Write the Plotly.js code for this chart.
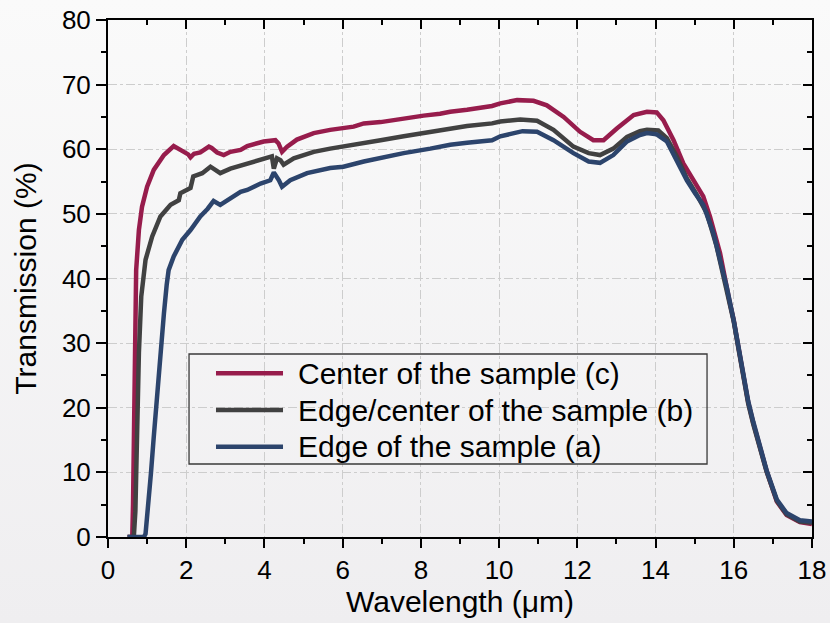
<!DOCTYPE html>
<html>
<head>
<meta charset="utf-8">
<script src="https://cdn.plot.ly/plotly-3.0.1.min.js"></script>
<style>
html, body { margin: 0; padding: 0; width: 830px; height: 623px; overflow: hidden;
  background: linear-gradient(to bottom, #fafafa, #efeef0); }
#chart { width: 830px; height: 623px; }
</style>
</head>
<body>
<div id="chart"></div>
<script>
// Center of the sample (c)
const xCenter = [0.5, 0.62, 0.64, 0.66, 0.685, 0.72, 0.79, 0.87, 1.0, 1.17, 1.43, 1.68, 1.94, 2.05, 2.11, 2.2, 2.36, 2.5, 2.58, 2.65, 2.79, 2.96, 3.13, 3.39, 3.56, 3.98, 4.28, 4.36, 4.45, 4.58, 4.83, 5.26, 5.68, 6.28, 6.54, 6.97, 7.56, 8.07, 8.49, 8.75, 9.18, 9.82, 10.03, 10.46, 10.88, 11.22, 11.65, 12.07, 12.41, 12.67, 13.01, 13.44, 13.78, 14.03, 14.2, 14.46, 14.71, 14.97, 15.22, 15.39, 15.65, 15.9, 16.0, 16.1, 16.2, 16.37, 16.5, 16.6, 16.84, 17.1, 17.35, 17.69, 18.0];
const yCenter = [0, 0, 5, 13, 28.5, 41.3, 47.5, 51.1, 54.2, 56.8, 59.1, 60.5, 59.6, 59.2, 58.75, 59.3, 59.5, 60.0, 60.4, 60.2, 59.5, 59.1, 59.6, 59.9, 60.5, 61.2, 61.4, 60.9, 59.6, 60.4, 61.5, 62.5, 63.0, 63.5, 64.0, 64.2, 64.8, 65.2, 65.5, 65.8, 66.1, 66.7, 67.1, 67.6, 67.5, 66.8, 65.0, 62.7, 61.4, 61.4, 63.2, 65.3, 65.8, 65.7, 64.5, 61.4, 57.8, 55.3, 52.7, 49.6, 43.9, 36.2, 33.5, 30.0, 26.5, 20.8, 17.6, 15.5, 10.2, 5.5, 3.4, 2.3, 2.0];

// Edge/center of the sample (b)
const xEdgeCenter = [0.5, 0.66, 0.7, 0.72, 0.745, 0.79, 0.85, 0.96, 1.13, 1.34, 1.6, 1.81, 1.85, 2.11, 2.18, 2.41, 2.62, 2.72, 2.87, 3.13, 3.56, 3.98, 4.19, 4.24, 4.32, 4.41, 4.49, 4.75, 5.26, 5.68, 6.02, 6.54, 6.97, 7.56, 8.07, 8.49, 8.75, 9.18, 9.82, 10.03, 10.54, 10.97, 11.39, 11.9, 12.29, 12.58, 12.92, 13.27, 13.6, 13.78, 14.07, 14.29, 14.54, 14.8, 15.05, 15.31, 15.56, 15.82, 16.0, 16.1, 16.2, 16.37, 16.5, 16.6, 16.84, 17.1, 17.35, 17.69, 18.0];
const yEdgeCenter = [0, 0, 4, 10, 18.1, 28.5, 37.2, 42.9, 46.5, 49.6, 51.4, 52.1, 53.2, 54.0, 55.8, 56.3, 57.3, 56.9, 56.3, 57.0, 57.8, 58.6, 58.9, 57.0, 58.6, 58.3, 57.6, 58.6, 59.6, 60.1, 60.4, 60.9, 61.4, 62.0, 62.5, 63.0, 63.2, 63.6, 64.0, 64.3, 64.6, 64.4, 63.0, 60.4, 59.4, 59.1, 60.1, 61.9, 62.8, 63.0, 62.9, 61.7, 58.9, 55.5, 53.0, 50.1, 45.0, 38.2, 33.3, 29.8, 26.3, 20.6, 17.4, 15.3, 10.1, 5.6, 3.5, 2.4, 2.2];

// Edge of the sample (a)
const xEdge = [0.5, 0.7, 0.92, 0.96, 1.04, 1.1, 1.17, 1.3, 1.43, 1.5, 1.55, 1.68, 1.9, 2.11, 2.36, 2.55, 2.7, 2.87, 3.13, 3.39, 3.56, 3.9, 4.15, 4.24, 4.37, 4.45, 4.66, 5.09, 5.68, 6.02, 6.54, 7.05, 7.56, 8.24, 8.75, 9.18, 9.82, 10.03, 10.6, 10.97, 11.39, 11.9, 12.29, 12.58, 12.92, 13.27, 13.6, 13.78, 14.03, 14.29, 14.54, 14.8, 15.01, 15.22, 15.48, 15.82, 16.0, 16.1, 16.2, 16.37, 16.5, 16.6, 16.84, 17.1, 17.35, 17.69, 18.0];
const yEdge = [0, 0, 0, 0.5, 5.2, 10, 15.5, 25.8, 34.6, 39.0, 41.3, 43.4, 46.0, 47.5, 49.6, 50.8, 52.0, 51.4, 52.4, 53.4, 53.7, 54.7, 55.2, 56.4, 55.2, 54.2, 55.2, 56.3, 57.1, 57.3, 58.1, 58.8, 59.4, 60.1, 60.7, 61.0, 61.4, 62.0, 62.8, 62.7, 61.4, 59.4, 58.1, 57.9, 59.1, 61.2, 62.2, 62.5, 62.3, 61.2, 58.3, 55.2, 53.2, 51.4, 47.0, 38.7, 33.5, 30.0, 26.6, 21.0, 17.8, 15.7, 10.3, 5.8, 3.7, 2.6, 2.4];

const seriesNames = ['Center of the sample (c)', 'Edge/center of the sample (b)', 'Edge of the sample (a)'];
const seriesColors = ['#971c4c', '#414141', '#2c446c'];

const FONT = '"Liberation Sans", Arial, Helvetica, sans-serif';
const xs = [xCenter, xEdgeCenter, xEdge];
const ys = [yCenter, yEdgeCenter, yEdge];

const traces = xs.map((x, i) => ({
  type: 'scatter', mode: 'lines', x: x, y: ys[i], name: seriesNames[i],
  line: { color: seriesColors[i], width: 4.5 }, showlegend: false
}));

// legend drawn as a framed key in paper coordinates
const legBox = { x0: 0.1151, x1: 0.8509, y0: 0.1412, y1: 0.354 };
const legRowY = [0.3165, 0.2456, 0.1747];
const legLineX = [0.1534, 0.2486];
const legTextX = 0.2670;

const shapes = [{
  type: 'rect', xref: 'paper', yref: 'paper', x0: legBox.x0, x1: legBox.x1, y0: legBox.y0, y1: legBox.y1,
  line: { color: '#3a3a3a', width: 1.3 }, fillcolor: 'rgba(0,0,0,0)', layer: 'above'
}];
const annotations = [];
seriesNames.forEach((n, i) => {
  shapes.push({ type: 'line', xref: 'paper', yref: 'paper', x0: legLineX[0], x1: legLineX[1],
    y0: legRowY[i], y1: legRowY[i], line: { color: seriesColors[i], width: 4.5 } });
  annotations.push({ xref: 'paper', yref: 'paper', x: legTextX, y: legRowY[i], xanchor: 'left', yanchor: 'middle',
    yshift: 0, text: n, showarrow: false, font: { family: FONT, size: 30, color: '#000' } });
});

const axBase = {
  showline: true, linecolor: '#000', linewidth: 2, zeroline: false,
  tickcolor: '#000', tickwidth: 2
};

const layout = {
  width: 830, height: 623,
  paper_bgcolor: 'rgba(0,0,0,0)', plot_bgcolor: 'rgba(0,0,0,0)',
  margin: { l: 108, r: 18, t: 20, b: 86 },
  font: { family: FONT, color: '#000' },
  showlegend: false,
  shapes: shapes,
  annotations: annotations,
  xaxis: Object.assign({}, axBase, {
    range: [0, 18], dtick: 2, tick0: 0, ticks: 'outside', ticklen: 9,
    showgrid: true, gridcolor: '#cdcdcd', griddash: 'dashdot', gridwidth: 1,
    minor: { dtick: 1, ticks: 'outside', ticklen: 5, tickwidth: 2, tickcolor: '#000', showgrid: false },
    tickfont: { family: FONT, size: 26 },
    title: { text: 'Wavelength (μm)', font: { family: FONT, size: 30 }, standoff: 4 }
  }),
  yaxis: Object.assign({}, axBase, {
    range: [0, 80], dtick: 10, tick0: 0, ticks: 'outside', ticklen: 10,
    showgrid: true, gridcolor: '#cdcdcd', griddash: 'dashdot', gridwidth: 1,
    minor: { dtick: 5, ticks: 'outside', ticklen: 5, tickwidth: 2, tickcolor: '#000', showgrid: false },
    tickfont: { family: FONT, size: 26 },
    title: { text: 'Transmission (%)', font: { family: FONT, size: 30 }, standoff: 16 }
  }),
  xaxis2: Object.assign({}, axBase, {
    overlaying: 'x', side: 'top', range: [0, 18], dtick: 2, tick0: 0,
    ticks: 'inside', ticklen: 9, showticklabels: false, showgrid: false,
    minor: { dtick: 1, ticks: 'inside', ticklen: 5, tickwidth: 2, tickcolor: '#000', showgrid: false }
  }),
  yaxis2: Object.assign({}, axBase, {
    overlaying: 'y', side: 'right', range: [0, 80], dtick: 10, tick0: 0,
    ticks: 'inside', ticklen: 9, showticklabels: false, showgrid: false,
    minor: { dtick: 5, ticks: 'inside', ticklen: 5, tickwidth: 2, tickcolor: '#000', showgrid: false }
  })
};

// invisible helper trace so the mirrored top/right axes are drawn
traces.push({ type: 'scatter', mode: 'lines', x: [0, 18], y: [0, 80], xaxis: 'x2', yaxis: 'y2',
  showlegend: false, hoverinfo: 'skip', line: { width: 0, color: 'rgba(0,0,0,0)' } });

Plotly.newPlot('chart', traces, layout, { displayModeBar: false, staticPlot: true });
</script>
</body>
</html>
